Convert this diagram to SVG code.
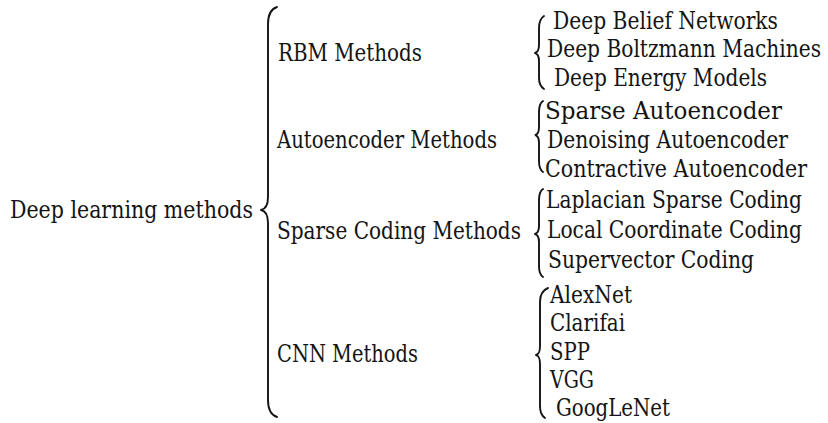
<svg xmlns="http://www.w3.org/2000/svg" width="828" height="423" viewBox="0 0 828 423">
  <style>
    text { font-family: "DejaVu Serif Condensed", "DejaVu Serif", "Liberation Serif", serif; font-size: 24px; fill: #141414; }
    .brace { fill: none; stroke: #141414; stroke-width: 1.9; stroke-linecap: round; stroke-linejoin: round; }
  </style>
  <rect width="828" height="423" fill="#ffffff"/>

  <!-- braces linking each level to its children -->
  <g id="connectors">
    <path class="brace" d="M 277 7 C 271 9, 268 14, 268 24 L 268 197 C 268 205, 266 209, 261 210 C 266 211, 268 215, 268 223 L 268 400 C 268 410, 271 415, 277 417"/>
    <path class="brace" d="M 544 16 C 541 18, 539 21, 539 28 L 539 45 C 539 50, 538 52, 535 53 C 538 54, 539 56, 539 61 L 539 78 C 539 84, 541 87, 544 89"/>
    <path class="brace" d="M 543 101 C 540 103, 539 106, 539 112 L 539 127 C 539 132, 538 134, 535.5 135 C 538 136, 539 138, 539 143 L 539 161 C 539 167, 540 170, 543 172"/>
    <path class="brace" d="M 543 189 C 540 191, 539 194, 539 200 L 539 226 C 539 231, 538 233, 535 234 C 538 235, 539 237, 539 242 L 539 266 C 539 272, 540 275, 543 277"/>
    <path class="brace" d="M 548 288 C 543 290, 540 294, 540 302 L 540 346 C 540 352, 539 354, 536 355 C 539 356, 540 358, 540 364 L 540 406 C 540 413, 542 416, 545 418"/>
  </g>

  <g id="root">
    <text x="10" y="218" textLength="243" lengthAdjust="spacingAndGlyphs">Deep learning methods</text>
  </g>

  <g id="rbm">
    <text x="278" y="60.5" textLength="144" lengthAdjust="spacingAndGlyphs">RBM Methods</text>
  </g>
  <g id="autoencoder">
    <text x="277" y="148" textLength="220" lengthAdjust="spacingAndGlyphs">Autoencoder Methods</text>
  </g>
  <g id="sparse-coding">
    <text x="277" y="238.5" textLength="244" lengthAdjust="spacingAndGlyphs">Sparse Coding Methods</text>
  </g>
  <g id="cnn">
    <text x="277" y="361.5" textLength="141" lengthAdjust="spacingAndGlyphs">CNN Methods</text>
  </g>

  <g id="dbn"><text x="553" y="28.5" textLength="225" lengthAdjust="spacingAndGlyphs">Deep Belief Networks</text></g>
  <g id="dbm"><text x="547" y="57" textLength="274" lengthAdjust="spacingAndGlyphs">Deep Boltzmann Machines</text></g>
  <g id="dem"><text x="554" y="86" textLength="213" lengthAdjust="spacingAndGlyphs">Deep Energy Models</text></g>

  <g id="sparse-ae"><text x="545" y="118.5" textLength="237" lengthAdjust="spacingAndGlyphs">Sparse Autoencoder</text></g>
  <g id="denoising-ae"><text x="547" y="147.5" textLength="241" lengthAdjust="spacingAndGlyphs">Denoising Autoencoder</text></g>
  <g id="contractive-ae"><text x="545" y="176.5" textLength="262" lengthAdjust="spacingAndGlyphs">Contractive Autoencoder</text></g>

  <g id="laplacian-sc"><text x="546" y="208" textLength="256" lengthAdjust="spacingAndGlyphs">Laplacian Sparse Coding</text></g>
  <g id="lcc"><text x="547" y="238" textLength="255" lengthAdjust="spacingAndGlyphs">Local Coordinate Coding</text></g>
  <g id="supervector"><text x="548" y="268" textLength="206" lengthAdjust="spacingAndGlyphs">Supervector Coding</text></g>

  <g id="alexnet"><text x="550" y="303" textLength="82" lengthAdjust="spacingAndGlyphs">AlexNet</text></g>
  <g id="clarifai"><text x="550" y="331" textLength="75" lengthAdjust="spacingAndGlyphs">Clarifai</text></g>
  <g id="spp"><text x="550" y="359.5" textLength="40" lengthAdjust="spacingAndGlyphs">SPP</text></g>
  <g id="vgg"><text x="550" y="388" textLength="44" lengthAdjust="spacingAndGlyphs">VGG</text></g>
  <g id="googlenet"><text x="556" y="416" textLength="114" lengthAdjust="spacingAndGlyphs">GoogLeNet</text></g>
</svg>
